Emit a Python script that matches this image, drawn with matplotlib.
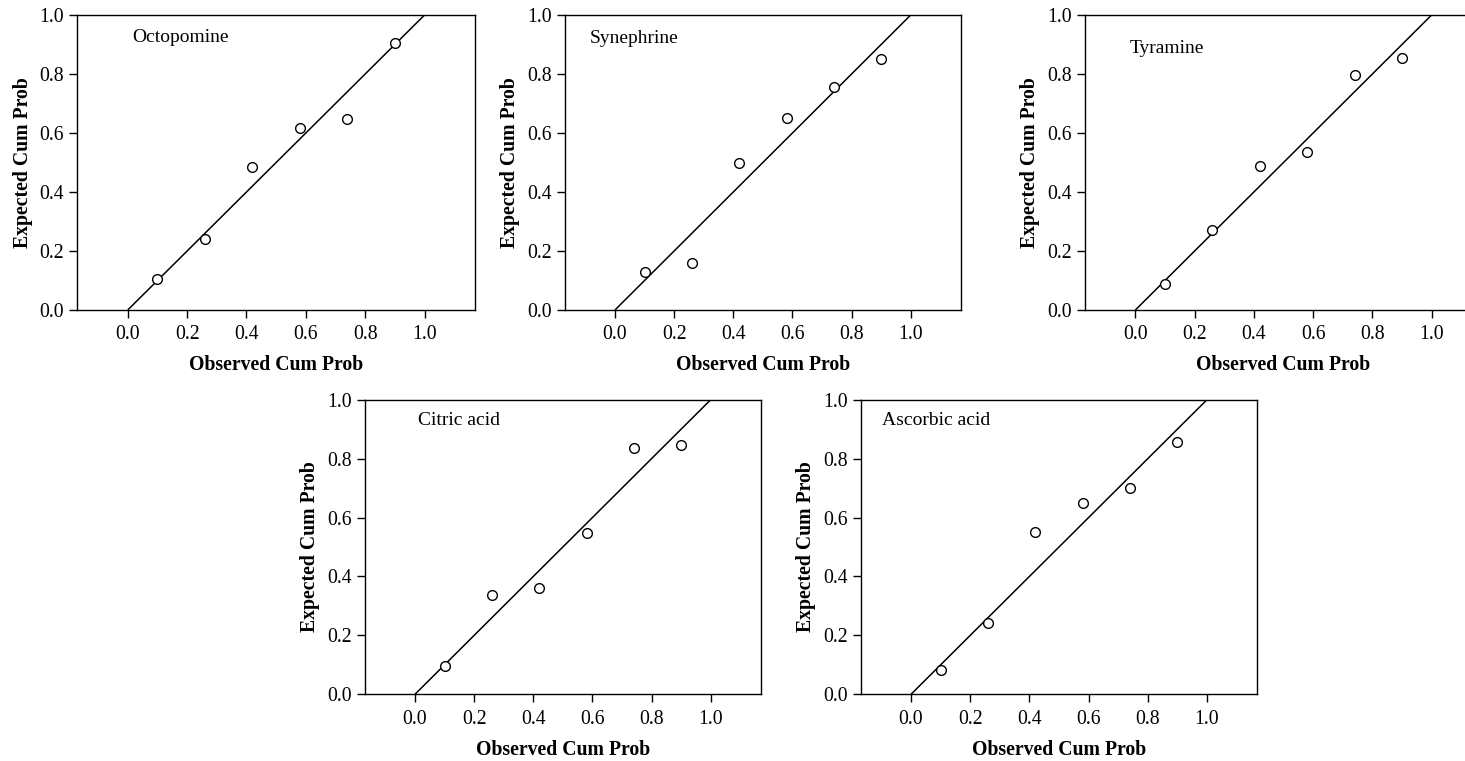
import matplotlib
matplotlib.use("Agg")
import matplotlib.pyplot as plt

plt.rcParams['font.family'] = ['Liberation Serif', 'DejaVu Serif']

observed = [0.10, 0.26, 0.42, 0.58, 0.74, 0.90]

octopomine = [0.104, 0.241, 0.484, 0.618, 0.646, 0.904]
synephrine = [0.129, 0.158, 0.499, 0.652, 0.757, 0.850]
tyramine = [0.089, 0.271, 0.488, 0.536, 0.797, 0.855]
citric_acid = [0.096, 0.336, 0.361, 0.549, 0.836, 0.845]
ascorbic_acid = [0.081, 0.242, 0.551, 0.649, 0.701, 0.856]

names = ["Octopomine", "Synephrine", "Tyramine", "Citric acid", "Ascorbic acid"]
series = [octopomine, synephrine, tyramine, citric_acid, ascorbic_acid]
ticks = [0.0, 0.2, 0.4, 0.6, 0.8, 1.0]
tick_labels = ["0.0", "0.2", "0.4", "0.6", "0.8", "1.0"]

W, H = 1465, 761
fig = plt.figure(figsize=(W / 100, H / 100), dpi=100)

# axes boxes in pixels: left, top, right, bottom
boxes = [
    (77.3, 15, 475, 310),
    (564.7, 15, 961, 310),
    (1085, 15, 1482, 310),
    (364.7, 399.7, 761, 694.3),
    (860.7, 399.7, 1257.3, 694.3),
]
label_pos = [(0.016, 0.925), (-0.086, 0.92), (-0.02, 0.885), (0.01, 0.931), (-0.097, 0.931)]

for (l, t, r, b), name, vals, lp in zip(boxes, names, series, label_pos):
    ax = fig.add_axes([l / W, (H - b) / H, (r - l) / W, (b - t) / H])
    ax.set_xlim(-0.17, 1.17)
    ax.set_ylim(0, 1.0)
    ax.plot([0, 1], [0, 1], color='black', lw=1.1, solid_capstyle='butt')
    ax.plot(observed, vals, linestyle='none', marker='o', markersize=7,
            markerfacecolor='white', markeredgecolor='black', markeredgewidth=1.0)
    ax.set_xticks(ticks)
    ax.set_xticklabels(tick_labels)
    ax.set_yticks(ticks)
    ax.set_yticklabels(tick_labels)
    ax.tick_params(direction='out', length=6, width=1.0, labelsize=14.2, pad=3.5)
    ax.tick_params(axis='x', pad=5)
    for s in ax.spines.values():
        s.set_linewidth(1.0)
    ax.set_xlabel("Observed Cum Prob", fontsize=14.2, fontweight='bold', labelpad=8)
    ax.set_ylabel("Expected Cum Prob", fontsize=14.2, fontweight='bold', labelpad=5)
    ax.text(lp[0], lp[1], name, fontsize=14, ha='left', va='center')

fig.savefig("out.png", dpi=100)
